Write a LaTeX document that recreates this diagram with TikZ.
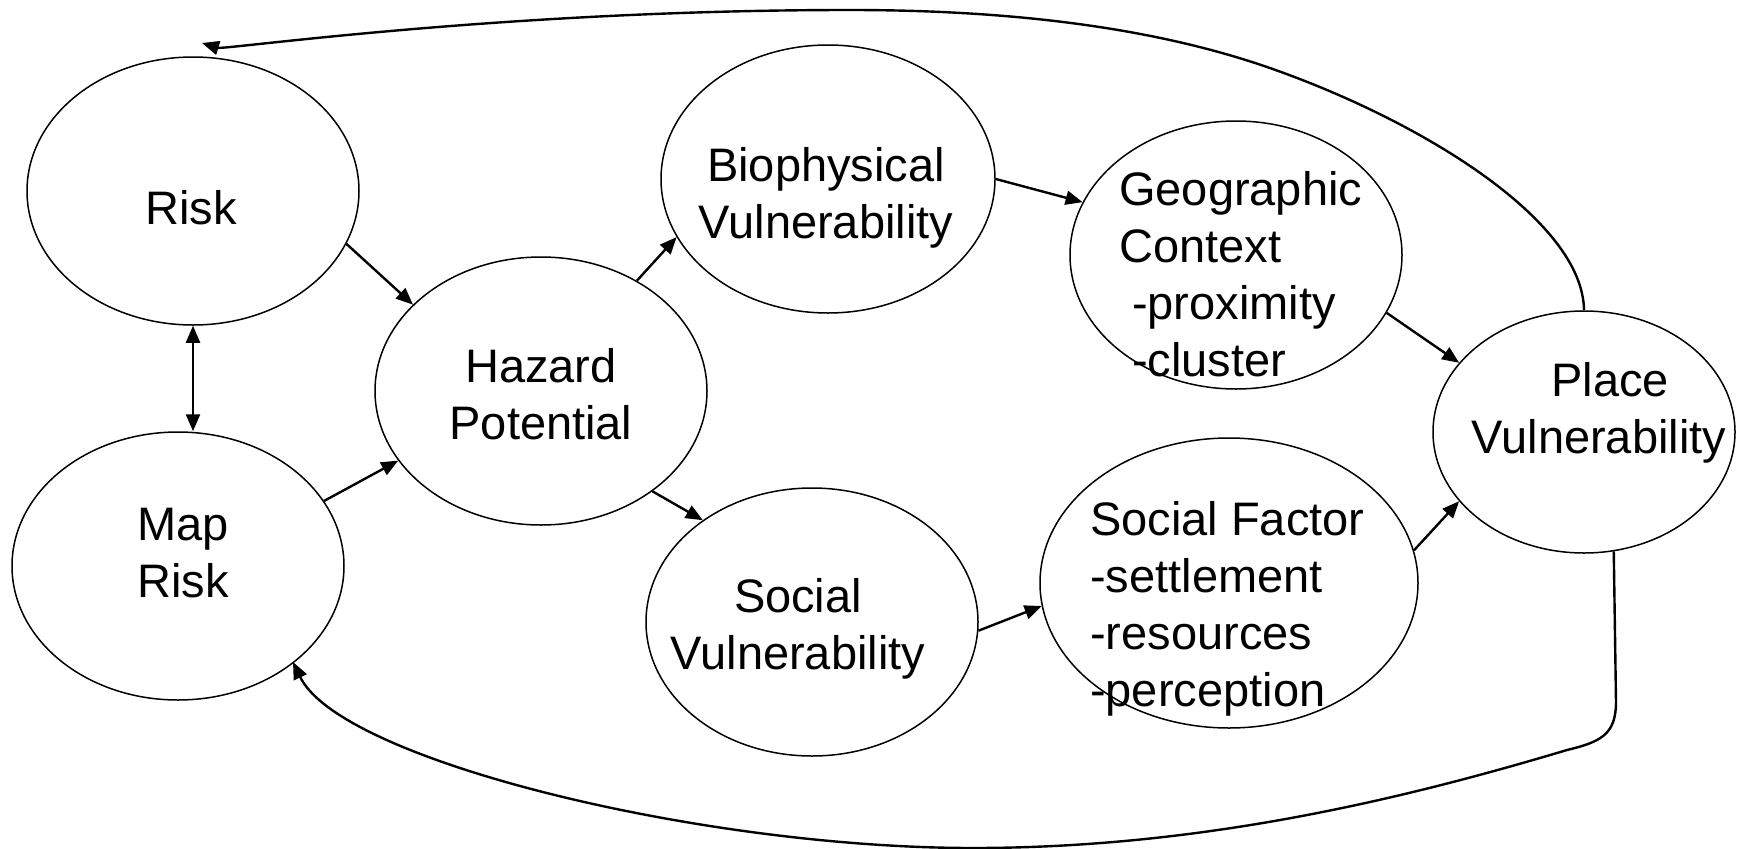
\documentclass[tikz,border=0pt]{standalone}
\usepackage{fontspec}
\setmainfont{Liberation Sans}
\usetikzlibrary{arrows.meta,shapes.geometric}
\begin{document}
\begin{tikzpicture}[x=1pt,y=-1pt,
  ell/.style={ellipse, draw, line width=1.5pt, inner sep=0pt},
  lab/.style={inner sep=0pt, font=\fontsize{47}{57}\selectfont},
  conn/.style={line width=2.4pt, -{Triangle[length=17pt,width=14pt]}},
  dconn/.style={line width=2.4pt, {Triangle[length=17pt,width=14pt]}-{Triangle[length=17pt,width=14pt]}}]
\useasboundingbox (0,0) rectangle (1749,849);
% ellipses
\node[ell, minimum width=332pt, minimum height=268pt] (risk) at (193,191) {};
\node[ell, minimum width=332pt, minimum height=268pt] (map) at (178,566) {};
\node[ell, minimum width=332pt, minimum height=268pt] (hazard) at (541,391) {};
\node[ell, minimum width=334pt, minimum height=268pt] (bio) at (828,179) {};
\node[ell, minimum width=332pt, minimum height=268pt] (soc) at (812,622) {};
\node[ell, minimum width=332pt, minimum height=268pt] (geo) at (1236,255) {};
\node[ell, minimum width=378pt, minimum height=290pt] (sf) at (1229,583) {};
\node[ell, minimum width=302pt, minimum height=242pt] (place) at (1584,432) {};
% labels
\node[lab, anchor=north, align=center] (risktxt) at (191,190) {Risk};
\node[lab, anchor=north, align=center] (maptxt) at (183,508) {Map\\Risk};
\node[lab, anchor=north, align=center] (haztxt) at (541,348) {Hazard\\Potential};
\node[lab, anchor=north, align=center] (biotxt) at (826,147) {Biophysical\\Vulnerability};
\node[lab, anchor=north, align=center] (soctxt) at (798,578) {Social\\Vulnerability};
\node[lab, anchor=north west, align=left] (geotxt) at (1119,171) {Geographic\\Context\\\hspace*{13pt}-proximity\\\hspace*{13pt}-cluster};
\node[lab, anchor=north west, align=left] (sftxt) at (1090,501) {Social Factor\\-settlement\\-resources\\-perception};
\node[lab, anchor=north, align=center] (placetxt) at (1599,362) {\hspace*{22pt}Place\\Vulnerability};
% straight connectors
\draw[conn] (risk.-19.6) -- (hazard.146);
\draw[conn] (map.24) -- (hazard.206);
\draw[conn] (hazard.49) -- (bio.201);
\draw[conn] (hazard.-42) -- (soc.137);
\draw[conn] (bio.0) -- (geo.161);
\draw[conn] (soc.-3) -- (sf.187);
\draw[conn] (geo.-21) -- (place.151);
\draw[conn] (sf.10) -- (place.209);
\draw[dconn] (risk.south) -- (risk.south |- map.north);
% long curved connectors
\coordinate (rtop) at (202,43);
\draw[conn] (place.north) .. controls (1583,220) and (1420,120) .. (1267,67)
  .. controls (1145,25) and (1000,10) .. (850,10)
  .. controls (500,10) and (225,50) .. (rtop);
\coordinate (b1) at (1616,702);
\coordinate (mtip) at (293,662);
\draw[conn] (place.-76) -- (b1) .. controls (1616,735) and (1600,742) .. (1567,750)
  .. controls (1400,800) and (1200,848) .. (973,848)
  .. controls (700,848) and (340,760) .. (mtip);
\end{tikzpicture}
\end{document}
